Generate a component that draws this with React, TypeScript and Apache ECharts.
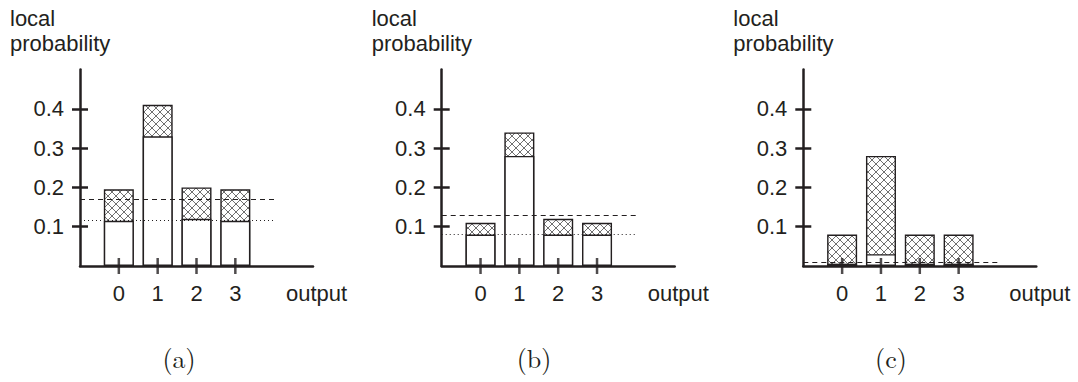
import React, { useEffect, useRef } from "react";
import * as echarts from "echarts";

// ---- data ----
const outputs = [0, 1, 2, 3];
const tickLabels = [0.1, 0.2, 0.3, 0.4];

const aTotal = [0.195, 0.41, 0.2, 0.195];
const aLower = [0.115, 0.33, 0.12, 0.115];
const aDashed = 0.17;
const aDotted = 0.117;

const bTotal = [0.11, 0.34, 0.12, 0.11];
const bLower = [0.08, 0.28, 0.08, 0.08];
const bDashed = 0.13;
const bDotted = 0.08;

const cTotal = [0.08, 0.28, 0.08, 0.08];
const cLower = [0.006, 0.03, 0.006, 0.006];
const cDashed = 0.01;

const captions = ["(a)", "(b)", "(c)"];
const yTitle = "local\nprobability";
const xTitle = "output";

const INK = "#231f20";
const FONT = "Liberation Sans, Arial, Helvetica, sans-serif";

function makeHatch() {
  const c = document.createElement("canvas");
  const s = 8;
  c.width = s;
  c.height = s;
  const ctx = c.getContext("2d")!;
  ctx.fillStyle = "#ffffff";
  ctx.fillRect(0, 0, s, s);
  ctx.strokeStyle = "#707070";
  ctx.lineWidth = 1;
  ctx.beginPath();
  for (let k = -1; k <= 1; k++) {
    ctx.moveTo(k * s, 0);
    ctx.lineTo(k * s + s, s);
    ctx.moveTo(k * s + s, 0);
    ctx.lineTo(k * s, s);
  }
  ctx.stroke();
  return { image: c, repeat: "repeat", imageWidth: s, imageHeight: s };
}

export default function App() {
  const ref = useRef<HTMLDivElement>(null);
  useEffect(() => {
    document.body.style.margin = "0";
    const chart = echarts.init(ref.current!, null, { renderer: "svg" });
    const hatch = makeHatch();

    const panels = [
      { left: 80, total: aTotal, lower: aLower, dashed: aDashed, dotted: aDotted as number | null, cap: 179 },
      { left: 441.7, total: bTotal, lower: bLower, dashed: bDashed, dotted: bDotted as number | null, cap: 534 },
      { left: 803.3, total: cTotal, lower: cLower, dashed: cDashed, dotted: null as number | null, cap: 891 },
    ];
    const W = 233;
    const TOP = 69.5;
    const H = 196.5;
    const TL = 8;

    const grid: any[] = [];
    const xAxis: any[] = [];
    const yAxis: any[] = [];
    const series: any[] = [];
    const graphic: any[] = [];

    panels.forEach((p, i) => {
      grid.push({ left: p.left, top: TOP, width: W, height: H });
      xAxis.push({
        type: "value",
        gridIndex: i,
        min: -1,
        max: 5,
        interval: 1,
        position: "bottom",
        offset: 0,
        splitLine: { show: false },
        axisLine: { show: true, onZero: false, lineStyle: { color: INK, width: 2.5 } },
        axisTick: { show: false },
        axisLabel: {
          show: true,
          customValues: outputs,
          margin: 16,
          color: INK,
          fontSize: 22,
          fontFamily: FONT,
          formatter: (v: number) => String(v),
        },
      });
      const yBase = {
        type: "value",
        gridIndex: i,
        min: 0,
        max: 0.5,
        interval: 0.1,
        position: "left",
        splitLine: { show: false },
      };
      yAxis.push({
        ...yBase,
        offset: 0,
        axisLine: { show: true, onZero: false, lineStyle: { color: INK, width: 2.5 } },
        axisTick: { show: false },
        axisLabel: {
          show: true,
          customValues: tickLabels,
          margin: 16,
          color: INK,
          fontSize: 22,
          fontFamily: FONT,
          formatter: (v: number) => v.toFixed(1),
        },
      });
      yAxis.push({
        ...yBase,
        offset: -TL,
        axisLine: { show: false, onZero: false },
        axisTick: { show: true, inside: false, length: 2 * TL, customValues: tickLabels, lineStyle: { color: INK, width: 2.5 } },
        axisLabel: { show: false },
      });

      const xi = i;
      const yi = i * 2;
      const markData: any[] = [
        [
          { coord: [-1, p.dashed], lineStyle: { type: [5, 4], color: INK, width: 1.2 } },
          { coord: [4, p.dashed] },
        ],
      ];
      if (p.dotted !== null) {
        markData.push([
          { coord: [-1, p.dotted], lineStyle: { type: [1, 3], color: INK, width: 1.2 } },
          { coord: [4, p.dotted] },
        ]);
      }
      series.push({
        type: "bar",
        xAxisIndex: xi,
        yAxisIndex: yi,
        barWidth: 30,
        barGap: "-100%",
        data: outputs.map((o, k) => [o, p.total[k]]),
        itemStyle: { color: hatch, borderColor: INK, borderWidth: 1.4 },
        z: 2,
      });
      series.push({
        type: "bar",
        xAxisIndex: xi,
        yAxisIndex: yi,
        barWidth: 30,
        barGap: "-100%",
        data: outputs.map((o, k) => [o, p.lower[k]]),
        itemStyle: { color: "#ffffff", borderColor: INK, borderWidth: 1.4 },
        z: 3,
        markLine: {
          silent: true,
          symbol: "none",
          label: { show: false },
          data: markData,
          z: 6,
        },
      });
      // category tick marks crossing the x axis
      series.push({
        type: "scatter",
        xAxisIndex: xi,
        yAxisIndex: yi,
        data: outputs.map((o) => [o, 0]),
        symbol: "rect",
        symbolSize: [2.5, 2 * TL],
        itemStyle: { color: INK },
        clip: false,
        silent: true,
        z: 8,
      });

      graphic.push({
        type: "text",
        left: p.left - 70,
        top: 6,
        style: { text: yTitle, fill: INK, fontSize: 22, fontFamily: FONT, lineHeight: 25 },
      });
      graphic.push({
        type: "text",
        x: p.left + 206,
        y: 293,
        style: { text: xTitle, fill: INK, fontSize: 22, fontFamily: FONT, verticalAlign: "middle", align: "left" },
      });
      graphic.push({
        type: "text",
        x: p.cap,
        y: 357,
        style: {
          text: captions[i],
          fill: INK,
          fontSize: 26,
          fontFamily: "Latin Modern Roman, DejaVu Serif, Liberation Serif, serif",
          verticalAlign: "middle",
          align: "center",
        },
      });
    });

    chart.setOption({
      animation: false,
      backgroundColor: "#ffffff",
      grid,
      xAxis,
      yAxis,
      series,
      graphic,
    });
    return () => chart.dispose();
  }, []);
  return <div ref={ref} style={{ width: 1078, height: 382 }} />;
}
